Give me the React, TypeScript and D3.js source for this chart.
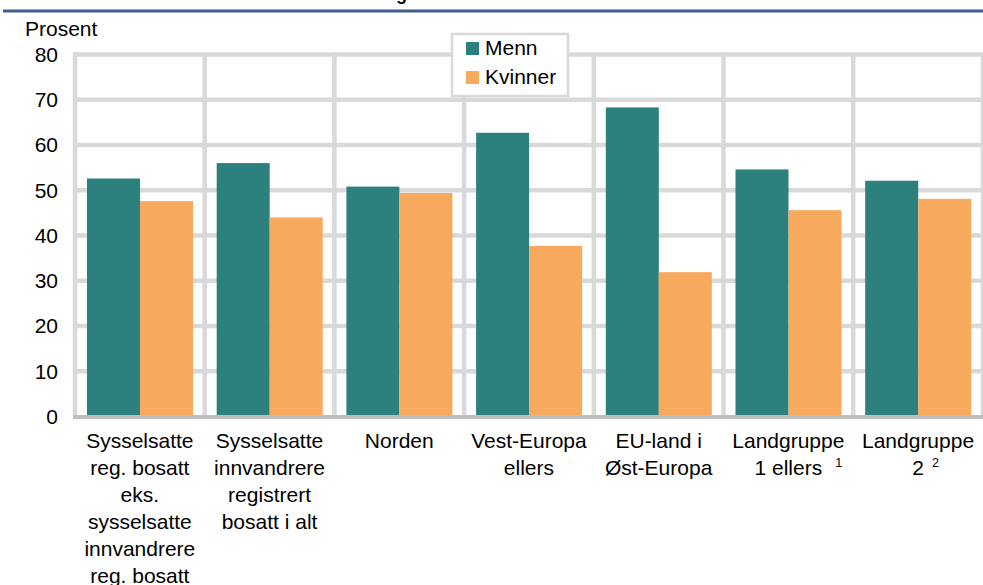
import React from "react";
import * as d3 from "d3";

const categories = [
  { lines: ["Sysselsatte", "reg. bosatt", "eks.", "sysselsatte", "innvandrere", "reg. bosatt"], sup: "", supDx: 0 },
  { lines: ["Sysselsatte", "innvandrere", "registrert", "bosatt i alt"], sup: "", supDx: 0 },
  { lines: ["Norden"], sup: "", supDx: 0 },
  { lines: ["Vest-Europa", "ellers"], sup: "", supDx: 0 },
  { lines: ["EU-land i", "Øst-Europa"], sup: "", supDx: 0 },
  { lines: ["Landgruppe", "1 ellers"], sup: "1", supDx: 47 },
  { lines: ["Landgruppe", "2"], sup: "2", supDx: 14 },
];
const menn = [52.6, 56.0, 50.8, 62.7, 68.3, 54.6, 52.1];
const kvinner = [47.6, 44.0, 49.4, 37.7, 31.9, 45.6, 48.1];
const seriesNames = ["Menn", "Kvinner"];
const seriesColors = ["#2c807e", "#f7a95e"];
const yTicks = [0, 10, 20, 30, 40, 50, 60, 70, 80];

const W = 983;
const H = 585;
const left = 75;
const right = 983;
const top = 54.5;
const bottom = 416.5;
const font = "'Liberation Sans', Arial, sans-serif";

export default function App() {
  const x0 = d3.scaleBand<number>().domain(categories.map((_, i) => i)).range([left, left + 7 * 129.7]).paddingInner(0).paddingOuter(0);
  const x1 = d3.scaleBand<number>().domain([0, 1]).range([12, 118]).padding(0);
  const y = d3.scaleLinear().domain([0, 80]).range([bottom, top]);
  const series = [menn, kvinner];
  const bw = x0.bandwidth();

  return (
    <svg width={W} height={H} style={{ position: "absolute", left: 0, top: 0, background: "#fff" }} fontFamily={font}>
      <text x={396} y={0} fontSize={18} fontWeight="bold" fill="#000">g</text>
      <line x1={3} x2={983} y1={11} y2={11} stroke="#3f5d88" strokeWidth={3} />
      <text x={25} y={36} fontSize={21} fill="#000">Prosent</text>
      {yTicks.filter((t) => t > 0).map((t) => (
        <line key={"h" + t} x1={left - 2} x2={right} y1={y(t)} y2={y(t)} stroke="#d9d9d9" strokeWidth={4.5} />
      ))}
      {d3.range(8).map((i) => {
        const xx = left + i * bw;
        return <line key={"v" + i} x1={xx} x2={xx} y1={y(80) - 2.2} y2={bottom} stroke="#d9d9d9" strokeWidth={4.5} />;
      })}
      {categories.map((_, i) =>
        series.map((s, j) => (
          <rect
            key={i + "-" + j}
            x={(x0(i) as number) + (x1(j) as number)}
            y={y(s[i])}
            width={x1.bandwidth()}
            height={y(0) - y(s[i])}
            fill={seriesColors[j]}
          />
        ))
      )}
      <line x1={left - 2} x2={right} y1={bottom + 0.5} y2={bottom + 0.5} stroke="#bfbfbf" strokeWidth={4} />
      {yTicks.map((t) => (
        <text key={"yt" + t} x={58} y={y(t)} dy="0.35em" textAnchor="end" fontSize={21} fill="#000">{t}</text>
      ))}
      {categories.map((c, i) => {
        const cx = (x0(i) as number) + bw / 2;
        return (
          <g key={"xl" + i}>
            {c.lines.map((l, k) => (
              <text key={k} x={cx} y={448 + k * 27} textAnchor="middle" fontSize={21} fill="#000">{l}</text>
            ))}
            {c.sup && (
              <text x={cx + c.supDx} y={448 + (c.lines.length - 1) * 27 - 8} fontSize={12.5} fill="#000">{c.sup}</text>
            )}
          </g>
        );
      })}
      <rect x={452} y={34} width={116} height={62} fill="#fff" stroke="#d9d9d9" strokeWidth={2.5} />
      {seriesNames.map((n, j) => (
        <g key={n}>
          <rect x={466} y={42 + j * 29} width={13} height={13} fill={seriesColors[j]} />
          <text x={485} y={55 + j * 29} fontSize={21} fill="#000">{n}</text>
        </g>
      ))}
    </svg>
  );
}
